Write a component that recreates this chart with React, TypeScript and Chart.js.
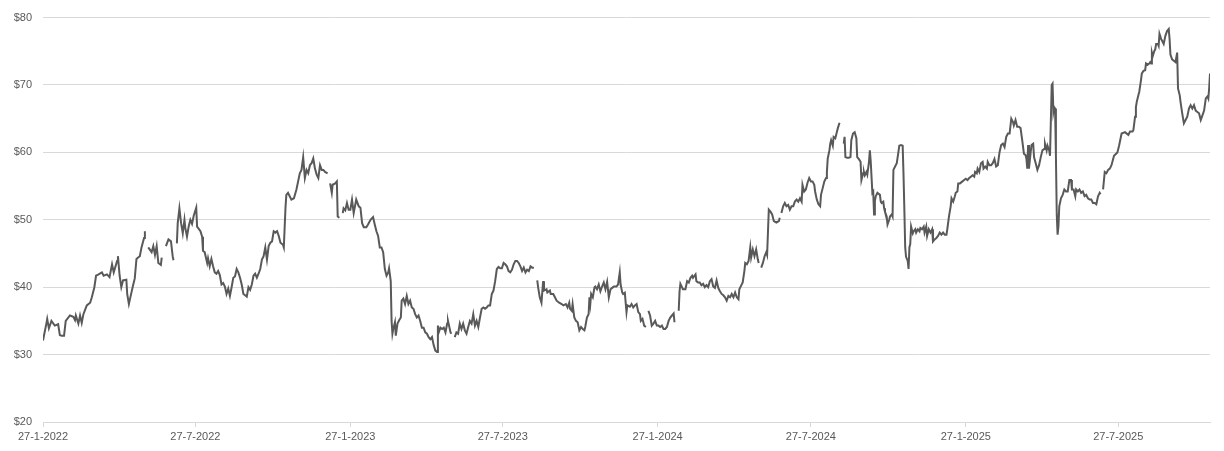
import React, { useEffect, useRef } from 'react';
import { Chart, registerables } from 'chart.js';

Chart.register(...registerables);

// Day offsets counted from 27-1-2022
const START_UTC = Date.UTC(2022, 0, 27);
const tickDays = [0, 181, 365, 546, 730, 912, 1096, 1277];
const yTickValues = [20, 30, 40, 50, 60, 70, 80];

const tradingDays = [
  0, 4, 5, 7, 10, 14, 18, 20, 22, 25, 27, 32, 36, 38, 39, 42, 44, 46, 48, 52,
  56, 58, 61, 63, 66, 70, 72, 76, 79, 82, 84, 88, 89, 91, 93, 95, 99, 100, 102, 105,
  107, 109, 111, 113, 115, 117, 120, 121, 123, 125, 129, 131, 133, 135, 137, 140, 141, 143, 146, 149,
  152, 154, 155, 156, 159, 160, 162, 164, 166, 168, 169, 171, 173, 175, 177, 179, 182, 183, 187, 189,
  190, 192, 195, 196, 198, 200, 202, 204, 206, 208, 210, 212, 214, 216, 218, 220, 222, 224, 226, 228,
  230, 232, 234, 236, 238, 240, 242, 244, 246, 248, 250, 252, 254, 256, 258, 260, 262, 264, 266, 268,
  270, 272, 274, 276, 278, 280, 282, 285, 286, 288, 289, 291, 293, 295, 298, 301, 303, 305, 307, 309,
  311, 313, 315, 317, 319, 321, 323, 325, 327, 329, 331, 333, 335, 338, 340, 341, 343, 344, 347, 349,
  350, 352, 354, 356, 357, 359, 361, 363, 365, 367, 369, 372, 375, 377, 379, 381, 384, 386, 389, 392,
  394, 396, 398, 400, 402, 404, 406, 408, 410, 411, 413, 414, 415, 416, 418, 419, 421, 423, 425, 426,
  428, 430, 432, 434, 436, 438, 440, 442, 444, 446, 448, 450, 452, 454, 456, 458, 460, 462, 464, 466,
  468, 469, 470, 472, 474, 476, 478, 480, 481, 484, 485, 487, 489, 491, 493, 495, 497, 499, 501, 503,
  505, 507, 509, 511, 513, 515, 517, 519, 521, 523, 525, 527, 529, 531, 533, 535, 537, 539, 541, 543,
  545, 547, 549, 551, 553, 555, 557, 559, 561, 563, 565, 567, 569, 571, 573, 575, 577, 579, 581, 583,
  585, 587, 588, 590, 592, 594, 595, 598, 599, 602, 603, 606, 608, 610, 613, 616, 618, 621, 623, 625,
  626, 628, 629, 631, 633, 635, 637, 639, 641, 643, 644, 646, 648, 649, 650, 651, 653, 655, 656, 658,
  660, 662, 664, 666, 668, 670, 672, 674, 676, 678, 681, 683, 685, 686, 688, 689, 691, 693, 694, 697,
  699, 701, 703, 705, 707, 709, 710, 712, 714, 716, 718, 719, 721, 723, 725, 727, 729, 731, 733, 735,
  737, 739, 741, 743, 745, 747, 749, 750, 752, 755, 756, 757, 760, 763, 765, 767, 769, 771, 772, 775,
  776, 778, 780, 782, 784, 786, 788, 790, 792, 794, 796, 798, 800, 802, 804, 806, 808, 810, 812, 814,
  816, 818, 820, 822, 824, 826, 827, 829, 831, 833, 834, 836, 838, 840, 841, 843, 845, 847, 849, 850,
  852, 853, 855, 857, 859, 860, 862, 864, 866, 868, 871, 874, 875, 876, 877, 879, 881, 883, 885, 887,
  889, 891, 893, 895, 897, 899, 901, 902, 904, 906, 908, 910, 912, 914, 916, 917, 919, 921, 923, 924,
  926, 928, 930, 931, 932, 934, 935, 936, 938, 939, 941, 943, 944, 946, 948, 951, 952, 953, 955, 957,
  959, 960, 962, 964, 966, 967, 969, 971, 972, 974, 975, 976, 978, 979, 981, 982, 983, 985, 986, 987,
  988, 989, 991, 994, 995, 996, 998, 999, 1000, 1002, 1003, 1005, 1006, 1008, 1009, 1010, 1012, 1014, 1016, 1017,
  1019, 1021, 1022, 1023, 1024, 1025, 1027, 1028, 1029, 1030, 1031, 1033, 1034, 1036, 1037, 1039, 1041, 1042, 1044, 1046,
  1047, 1049, 1050, 1052, 1054, 1056, 1057, 1059, 1061, 1063, 1065, 1067, 1069, 1071, 1073, 1074, 1076, 1078, 1079, 1081,
  1083, 1084, 1086, 1087, 1089, 1092, 1094, 1096, 1098, 1100, 1102, 1104, 1106, 1107, 1109, 1110, 1112, 1114, 1116, 1117,
  1119, 1121, 1122, 1124, 1126, 1128, 1130, 1132, 1134, 1136, 1138, 1140, 1142, 1144, 1146, 1148, 1150, 1152, 1153, 1155,
  1157, 1159, 1161, 1163, 1165, 1167, 1168, 1169, 1170, 1171, 1173, 1174, 1176, 1177, 1179, 1181, 1183, 1185, 1187, 1189,
  1190, 1192, 1193, 1195, 1196, 1198, 1199, 1200, 1201, 1202, 1203, 1204, 1205, 1206, 1207, 1209, 1211, 1213, 1215, 1217,
  1219, 1221, 1222, 1224, 1226, 1227, 1229, 1231, 1233, 1235, 1237, 1239, 1241, 1243, 1245, 1247, 1249, 1251, 1253, 1255,
  1256, 1257, 1259, 1261, 1263, 1265, 1267, 1269, 1272, 1276, 1278, 1281, 1285, 1289, 1291, 1294, 1295, 1297, 1298, 1299,
  1301, 1302, 1304, 1305, 1307, 1309, 1310, 1312, 1314, 1315, 1316, 1317, 1318, 1320, 1321, 1322, 1324, 1325, 1326, 1328,
  1329, 1331, 1333, 1335, 1337, 1338, 1339, 1341, 1343, 1345, 1347, 1348, 1350, 1351, 1353, 1355, 1357, 1359, 1361, 1363,
  1365, 1367, 1369, 1371, 1373, 1375, 1377, 1379, 1381, 1383, 1384, 1385, 1386,
];

const closePrices: (number | null)[] = [
  32.1, 34.6, 35.3, 33.9, 35.0, 34.3, 34.5, 32.9, 32.8, 32.8, 35.0, 35.8, 35.6, 35.1, 35.8, 34.6, 35.8, 34.7, 36.0, 37.3,
  37.7, 38.5, 40.0, 41.7, 41.9, 42.2, 41.7, 41.9, 41.5, 43.4, 42.2, 43.9, 44.6, 41.7, 40.0, 41.0, 41.1, 39.0, 37.5, 39.2,
  40.3, 41.3, 44.2, 44.4, 44.6, 45.9, 47.3, 48.3, null, 45.9, 45.2, 46.1, 44.8, 46.1, 43.6, 43.3, 44.4, null, 46.1, 47.1,
  46.8, 44.6, 44.0, null, 46.5, 49.5, 51.7, 49.5, 48.0, 50.0, 48.8, 47.5, 49.0, 50.0, 49.4, 50.6, 51.8, 49.0, 48.3, 47.5,
  45.4, 45.2, 43.6, 44.3, 43.1, 44.2, 43.1, 42.2, 42.0, 42.4, 41.8, 40.4, 40.6, 40.1, 39.0, 39.8, 38.7, 40.0, 41.4, 41.6,
  42.7, 42.2, 41.4, 40.4, 39.0, 38.8, 38.6, 40.0, 39.6, 40.4, 41.7, 42.0, 41.4, 42.0, 42.7, 44.1, 44.6, 45.9, 44.1, 46.1,
  46.6, 46.8, 48.3, 48.1, 48.3, 47.6, 46.6, 46.3, 45.9, 51.8, 53.7, 54.0, 53.5, 53.0, 53.2, 54.5, 55.7, 56.9, 57.4, 59.3,
  56.2, 57.4, 56.9, 58.1, 58.4, 59.1, 57.6, 56.7, 56.2, 58.1, 57.4, 57.4, 57.1, 56.9, null, 55.4, 54.0, 55.2, 55.4, 55.7,
  50.5, 50.3, null, 51.0, 51.7, 51.4, 52.5, 51.5, 51.5, 53.0, 51.0, 53.0, 52.0, 51.8, 49.5, 48.9, 48.9, 49.3, 50.0, 50.4,
  49.3, 48.3, 47.6, 45.9, 45.9, 45.2, 42.7, 41.7, 42.2, 42.8, 40.9, 35.0, 33.1, 33.8, 34.8, 32.8, 34.6, 35.1, 35.5, 38.0,
  38.3, 37.5, 38.7, 37.5, 38.0, 37.0, 36.8, 36.0, 35.5, 35.8, 35.0, 34.0, 34.0, 33.3, 33.1, 32.6, 32.3, 32.6, 31.4, 30.6,
  30.4, 34.3, 33.3, 34.0, 33.8, 34.0, 33.3, 34.6, 35.0, 33.3, 33.1, null, 32.6, 33.3, 33.1, 34.6, 33.8, 34.6, 33.6, 33.1,
  34.1, 35.0, 34.6, 36.0, 34.3, 35.0, 34.1, 35.5, 36.8, 37.0, 36.8, 37.0, 37.3, 37.3, 39.0, 39.5, 40.9, 42.7, 43.0, 42.8,
  42.8, 43.6, 43.4, 43.1, 42.4, 42.2, 42.6, 43.4, 43.9, 43.9, 43.6, 43.1, 42.4, 42.9, 42.2, 42.6, 42.4, 43.1, 42.9, 42.9,
  null, 41.0, 40.0, 38.5, 37.7, 40.9, 39.5, 39.7, 39.2, 39.5, 39.0, 39.0, 38.5, 38.0, 37.7, 37.5, 37.3, 37.5, 37.0, 37.7,
  36.8, 36.5, 37.5, 35.5, 35.0, 34.8, 33.6, 34.1, 33.8, 33.6, 34.1, 35.5, 36.0, 38.5, 37.5, 39.0, 38.5, 40.0, 40.1, 39.7,
  40.4, 39.4, 40.1, 40.7, 39.7, 40.8, 38.5, 39.7, 39.9, 40.1, 40.1, 40.4, 42.2, 40.4, 39.2, 39.0, 39.2, 36.3, 37.3, 37.1,
  37.5, 37.0, 37.3, 37.5, 36.3, 36.0, 35.0, 35.3, 34.3, 34.1, null, 36.5, 35.8, 34.3, 34.6, 35.0, 34.3, 34.3, 34.1, 34.3,
  33.8, 33.8, 34.1, 35.0, 35.5, 35.8, 36.1, 34.8, null, 36.5, 39.4, 40.5, 39.7, 39.7, 40.9, 40.7, 41.4, 41.7, 41.4, 41.9,
  40.9, 40.7, 40.7, 40.3, 40.5, 40.0, 40.3, 40.0, 40.9, 41.2, 40.1, 39.9, 41.0, 39.9, 39.4, 39.0, 38.8, 38.5, 38.0, 38.7,
  38.5, 39.0, 38.5, 39.2, 38.5, 38.2, 39.7, 40.2, 40.7, 42.4, 43.6, 43.4, 43.9, 45.9, 44.4, 45.6, 44.6, 45.6, 44.1, 43.6,
  null, 42.9, 43.6, 44.6, 45.2, 44.8, 51.5, 51.2, 50.8, 49.8, 49.6, 49.8, 50.3, null, 51.0, 52.0, 52.5, 52.0, 52.2, 51.5,
  52.0, 52.0, 52.7, 53.0, 52.7, 53.2, 52.7, 55.2, 54.2, 54.5, 55.5, 56.2, 55.7, 55.7, 55.2, 54.2, 53.0, 52.3, 52.0, 53.7,
  54.7, 55.7, 56.2, 57.1, 59.1, 60.3, 61.3, 61.8, 61.0, 62.3, 62.1, 63.1, 63.6, 64.4, null, 61.3, 62.3, 59.3, 59.2, 59.2,
  59.3, 61.8, 62.8, 63.0, 62.1, 59.3, 59.0, 58.6, 55.9, 56.9, 57.1, 56.6, 57.1, 56.7, 58.6, 60.3, 58.8, 54.0, 54.2, 50.8,
  52.8, 53.5, 54.0, 53.7, 52.7, 52.5, 52.7, 51.7, 51.2, 50.5, 49.3, 50.0, 50.5, 50.8, 50.5, 57.4, 57.9, 58.4, 60.1, 61.0,
  61.1, 61.0, 56.7, 51.5, 45.9, 44.5, 43.9, 42.7, 45.9, 46.4, 49.0, 48.0, 48.3, 48.6, 48.1, 48.6, 48.3, 48.8, 48.6, 49.0,
  48.1, 49.0, 47.6, 48.6, 48.1, 48.6, 46.8, 47.1, 47.3, 47.6, 48.1, 47.8, 48.1, 47.8, 47.8, 48.6, 50.5, 52.0, 53.2, 52.7,
  53.5, 54.0, 54.2, 55.4, 55.4, 55.7, 55.9, 56.1, 55.9, 56.2, 56.4, 56.6, 56.4, 57.1, 56.9, 57.6, 57.1, 58.4, 58.6, 57.6,
  57.9, 57.6, 58.6, 58.1, 58.1, 58.4, 59.0, 57.9, 58.1, 60.0, 61.1, 61.3, 60.8, 62.3, 62.8, 62.8, 65.0, 64.5, 64.0, 64.8,
  63.8, 63.8, 63.6, 61.8, 59.8, 59.6, 59.0, 57.6, 61.1, 57.6, 60.0, 61.1, 61.3, 59.3, 58.4, 57.4, 58.1, 59.3, 60.3, 60.5,
  61.3, 60.3, 61.0, 60.3, 59.5, 70.0, 70.2, 66.0, 66.7, 66.5, 59.5, 50.8, 47.8, 49.0, 52.0, 53.2, 53.7, 54.5, 54.2, 54.2,
  55.9, 55.9, 54.5, 54.5, 53.5, 54.5, 54.2, 54.5, 54.0, 54.2, 53.5, 53.7, 53.2, 53.0, 53.0, 52.5, 52.5, 52.3, 53.5, 54.0,
  53.8, null, 54.5, 57.1, 56.9, 57.4, 57.6, 58.1, 59.5, 60.0, 61.0, 62.8, 63.0, 62.6, 63.1, 63.1, 63.3, 65.3, 66.7, 67.5,
  68.5, 69.0, 70.7, 71.7, 72.1, 72.2, 73.2, 73.0, 73.2, 73.4, 73.2, 74.8, 74.3, 75.1, 75.3, 76.1, 76.1, 75.8, 77.6, 76.8,
  76.6, 76.1, 77.3, 78.0, 78.3, 76.8, 74.5, 73.8, 73.6, 73.4, 74.8, 69.5, 68.5, 67.5, 65.8, 64.3, 64.8, 65.3, 66.5, 67.0,
  66.5, 67.0, 66.2, 66.0, 65.8, 64.8, 65.5, 66.2, 68.0, 68.3, 68.0, 69.5, 71.7,
];

const LAST_DAY = tradingDays[tradingDays.length - 1];
const FONT_FAMILY = '"Liberation Sans", Arial, sans-serif';
const TEXT_COLOR = '#595959';
const GRID_COLOR = '#d9d9d9';
const LINE_COLOR = '#595959';

function dayLabel(v: number): string {
  const d = new Date(START_UTC + v * 86400000);
  return `${d.getUTCDate()}-${d.getUTCMonth() + 1}-${d.getUTCFullYear()}`;
}

export default function App() {
  const canvasRef = useRef<HTMLCanvasElement | null>(null);

  useEffect(() => {
    const canvas = canvasRef.current;
    if (!canvas) return;
    const points = tradingDays.map((d, i) => ({ x: d, y: closePrices[i] }));
    const chart = new Chart(canvas, {
      type: 'line',
      data: {
        datasets: [
          {
            data: points as any,
            borderColor: LINE_COLOR,
            borderWidth: 2,
            pointRadius: 0,
            pointHoverRadius: 0,
            tension: 0,
            spanGaps: false,
            fill: false,
          },
        ],
      },
      options: {
        animation: false,
        responsive: false,
        maintainAspectRatio: false,
        layout: { padding: { top: 15, right: 14, left: 0, bottom: 0 } },
        plugins: {
          legend: { display: false },
          tooltip: { enabled: false },
          title: { display: false },
        },
        scales: {
          x: {
            type: 'linear',
            min: 0,
            max: LAST_DAY,
            afterBuildTicks: (scale: any) => {
              scale.ticks = tickDays.map((v) => ({ value: v }));
            },
            afterFit: (scale: any) => {
              scale.height = 29;
            },
            ticks: {
              autoSkip: false,
              maxRotation: 0,
              minRotation: 0,
              padding: 3,
              color: TEXT_COLOR,
              font: { family: FONT_FAMILY, size: 11 },
              callback: (v: any) => dayLabel(Number(v)),
            },
            grid: {
              drawOnChartArea: false,
              drawTicks: true,
              tickLength: 5,
              color: GRID_COLOR,
            },
            border: { display: true, color: GRID_COLOR },
          },
          y: {
            min: 20,
            max: 80,
            afterBuildTicks: (scale: any) => {
              scale.ticks = yTickValues.map((v) => ({ value: v }));
            },
            afterFit: (scale: any) => {
              scale.width = 43;
            },
            ticks: {
              padding: 11,
              color: TEXT_COLOR,
              font: { family: FONT_FAMILY, size: 11 },
              callback: (v: any) => '$' + v,
            },
            grid: { color: GRID_COLOR, drawTicks: false, lineWidth: 1 },
            border: { display: false },
          },
        },
      },
    });
    return () => chart.destroy();
  }, []);

  return (
    <div style={{ position: 'fixed', left: 0, top: 0, width: 1224, height: 451, background: '#ffffff' }}>
      <canvas ref={canvasRef} width={1224} height={451} style={{ width: 1224, height: 451, display: 'block' }} />
    </div>
  );
}
